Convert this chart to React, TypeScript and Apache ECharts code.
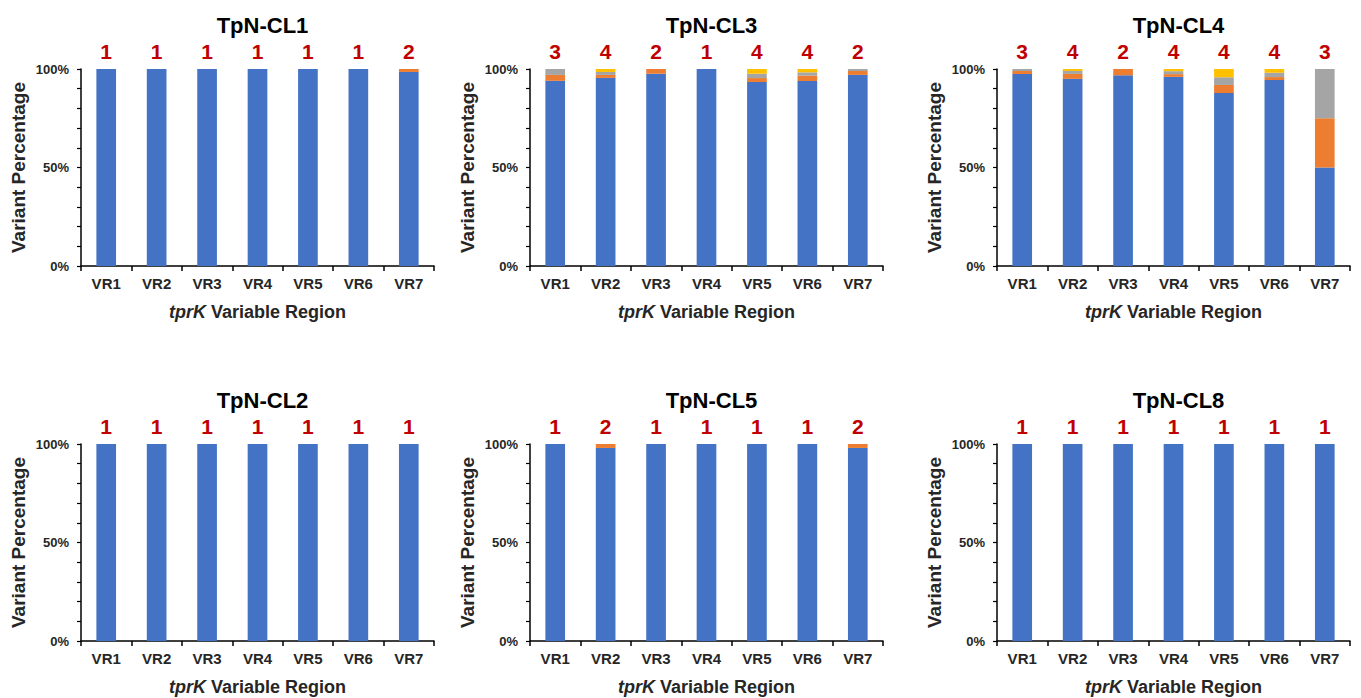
import React, { useEffect, useRef } from "react";
import * as echarts from "echarts";

const categories = ["VR1", "VR2", "VR3", "VR4", "VR5", "VR6", "VR7"];
const panelTitles = ["TpN-CL1", "TpN-CL3", "TpN-CL4", "TpN-CL2", "TpN-CL5", "TpN-CL8"];
const variantCounts = [
  ["1", "1", "1", "1", "1", "1", "2"],
  ["3", "4", "2", "1", "4", "4", "2"],
  ["3", "4", "2", "4", "4", "4", "3"],
  ["1", "1", "1", "1", "1", "1", "1"],
  ["1", "2", "1", "1", "1", "1", "2"],
  ["1", "1", "1", "1", "1", "1", "1"],
];
// Stacked variant shares (%) per panel, bottom to top
const variant1 = [
  [100, 100, 100, 100, 100, 100, 98.5],
  [94, 95.5, 97.6, 100, 93.4, 93.9, 97],
  [97.5, 95, 96.8, 96, 87.8, 94.4, 50],
  [100, 100, 100, 100, 100, 100, 100],
  [100, 98, 100, 100, 100, 100, 98],
  [100, 100, 100, 100, 100, 100, 100],
];
const variant2 = [
  [0, 0, 0, 0, 0, 0, 1.5],
  [3, 1.5, 2.4, 0, 2, 2.7, 2],
  [1.5, 2.5, 3.2, 1.4, 4.1, 1.5, 25],
  [0, 0, 0, 0, 0, 0, 0],
  [0, 2, 0, 0, 0, 0, 2],
  [0, 0, 0, 0, 0, 0, 0],
];
const variant3 = [
  [0, 0, 0, 0, 0, 0, 0],
  [3, 1.5, 0, 0, 2.2, 1.7, 1],
  [1, 1.5, 0, 1.5, 3.9, 2.2, 25],
  [0, 0, 0, 0, 0, 0, 0],
  [0, 0, 0, 0, 0, 0, 0],
  [0, 0, 0, 0, 0, 0, 0],
];
const variant4 = [
  [0, 0, 0, 0, 0, 0, 0],
  [0, 1.5, 0, 0, 2.4, 1.7, 0],
  [0, 1, 0, 1.1, 4.2, 1.9, 0],
  [0, 0, 0, 0, 0, 0, 0],
  [0, 0, 0, 0, 0, 0, 0],
  [0, 0, 0, 0, 0, 0, 0],
];
const yTicks = [0, 50, 100];

const colors = ["#4472C4", "#ED7D31", "#A5A5A5", "#FFC000"];
const FONT = 'Arial, "Liberation Sans", sans-serif';
const gridLefts = [81, 530, 997];
const gridTops = [69, 444];
const gridW = 353;
const gridH = 197;

export default function App() {
  const ref = useRef<HTMLDivElement>(null);
  useEffect(() => {
    document.body.style.margin = "0";
    const chart = echarts.init(ref.current!, null, { renderer: "svg" });
    const grids: any[] = [];
    const xAxes: any[] = [];
    const yAxes: any[] = [];
    const series: any[] = [];
    const titles: any[] = [];
    panelTitles.forEach((t, i) => {
      const col = i % 3;
      const row = Math.floor(i / 3);
      const left = gridLefts[col];
      const top = gridTops[row];
      grids.push({ left, top, width: gridW, height: gridH, containLabel: false });
      titles.push({
        text: t,
        left: left + gridW / 2,
        top: top - 60,
        textAlign: "center",
        textStyle: { fontFamily: FONT, fontSize: 22, fontWeight: "bold", color: "#000" },
      });
      xAxes.push({
        type: "category",
        gridIndex: i,
        data: categories,
        position: "bottom",
        axisLine: { lineStyle: { color: "#000", width: 1.5 } },
        axisTick: { show: true, length: 5, lineStyle: { color: "#000", width: 1.5 } },
        axisLabel: {
          interval: 0,
          margin: 10,
          fontFamily: FONT,
          fontSize: 15,
          fontWeight: "bold",
          color: "#262626",
        },
        name: "{i|tprK} Variable Region",
        nameLocation: "middle",
        nameGap: 37,
        nameTextStyle: {
          fontFamily: FONT,
          fontSize: 18,
          fontWeight: "bold",
          color: "#262626",
          rich: { i: { fontFamily: FONT, fontSize: 18, fontWeight: "bold", fontStyle: "italic", color: "#262626" } },
        },
      });
      xAxes.push({
        type: "category",
        gridIndex: i,
        data: variantCounts[i],
        position: "top",
        axisLine: { show: false },
        axisTick: { show: false },
        axisLabel: {
          interval: 0,
          margin: 7,
          fontFamily: FONT,
          fontSize: 21,
          fontWeight: "bold",
          color: "#C00000",
        },
      });
      yAxes.push({
        type: "value",
        gridIndex: i,
        min: yTicks[0],
        max: yTicks[yTicks.length - 1],
        interval: 50,
        splitLine: { show: false },
        axisLine: { show: true, lineStyle: { color: "#000", width: 1.5 } },
        axisTick: { show: true, length: 4, lineStyle: { color: "#000", width: 1.2 } },
        minorTick: { show: true, splitNumber: 5, length: 4, lineStyle: { color: "#000", width: 1.2 } },
        axisLabel: {
          margin: 12,
          formatter: "{value}%",
          fontFamily: FONT,
          fontSize: 13,
          fontWeight: "bold",
          color: "#262626",
        },
        name: "Variant Percentage",
        nameLocation: "middle",
        nameGap: 53,
        nameTextStyle: { fontFamily: FONT, fontSize: 19, fontWeight: "bold", color: "#262626" },
      });
      [variant1, variant2, variant3, variant4].forEach((v, k) => {
        series.push({
          type: "bar",
          xAxisIndex: i * 2,
          yAxisIndex: i,
          stack: "p" + i,
          barWidth: "39%",
          data: v[i],
          itemStyle: { color: colors[k] },
          emphasis: { disabled: true },
        });
      });
    });
    chart.setOption({
      animation: false,
      backgroundColor: "#fff",
      title: titles,
      grid: grids,
      xAxis: xAxes,
      yAxis: yAxes,
      series,
    });
    return () => chart.dispose();
  }, []);
  return <div ref={ref} style={{ width: 1361, height: 698 }} />;
}
